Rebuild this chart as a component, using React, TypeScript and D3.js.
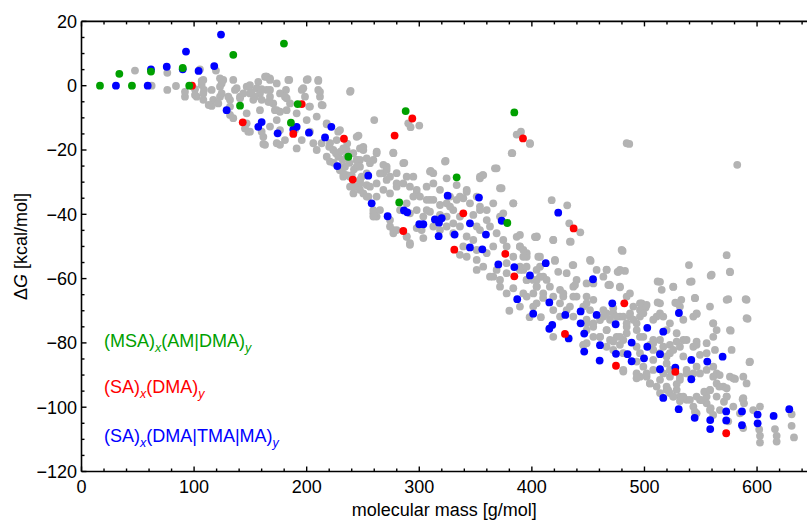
import React from "react";
import * as d3 from "d3";

// ---------- data (molecular mass [g/mol], ΔG [kcal/mol]) ----------
const xTicks = [0, 100, 200, 300, 400, 500, 600];
const yTicks = [-120, -100, -80, -60, -40, -20, 0, 20];

const grayPoints: [number, number][] = [
  [47.5,4.7],[62.3,0],[76.2,4],[76.2,-1.3],[83.9,-0.1],[105.2,5.1],[119.4,4.7],
  [106.7,1.5],[108.8,-1.3],[100.8,-1.1],[91.9,-3.4],[102.3,-3.4],[108.2,-4.4],[115.6,-6.3],[117,-4.4],[123,-3.4],[124.5,0.7],[123,2.3],[134.8,1.8],[136.3,-1.3],[140.8,-3.4],[146.7,-0.3],[149.6,-2.4],[152.6,-4.4],[155.6,-0.8],[157,1.2],[158.5,-2.4],[163,2.8],[164.5,-1.3],[167.4,-3.4],[170.3,-5.5],[131.9,-9.1],[145.2,-13.3],[148.1,-14.3],[160,-14.3],[161.5,-15.9],[161.5,-18.1],[176.3,-8.1],[173.4,-17.9],[131.9,-4.4],
  [163.9,2.8],[167.4,2.3],[184.5,1.8],[200.9,2],[210.3,1.5],[239,-1.6],[160,-1.1],[181.6,-1.3],[182.2,-3.9],[195.6,-1.3],[210.3,-1.3],[211.8,-3.4],[214.2,-6.1],[166.8,-5],[173.3,-7.6],[182.2,-7.6],[202.3,-6.5],[200,-10.7],[217.8,-12],[228,-14.3],[244.4,-15.9],[260,-10.7],[290.2,-11.7],[292.3,-12.9],[300,-12.4],[276.9,-20.8],[286.7,-24],[323.4,-23.4],[368.7,-25.7],[310.1,-26.5],[386.5,-15.2],[390.3,-14.3],[398.3,-18.1],[382.6,-21],[356.3,-27.8],[353.9,-28.8],[484.2,-17.9],[486.5,-18.1],[582.4,-24.6],
  [91.9,-1.9],[100.8,-2.9],[108.2,-2.4],[106.7,0.2],[108.2,1.8],[115.6,-1.3],[123,-0.3],[125.9,1.8],[124.5,-2.4],[113,-6],[121.5,-5.5],[130.4,-3.4],[137.8,-0.8],[140.8,-3.9],[143.7,-2.4],[149.6,0.2],[151.1,-1.9],[154.1,-3.4],[160,-4.4],[164.5,2.8],[167.4,1.8],[167.4,-1.3],[165.9,-5],[173.4,0.7],[176.3,-2.4],[183.7,1.8],[180.7,-3.4],[185.2,-5.5],[197,-0.8],[200,1.8],[198.5,-3.4],[210.3,1.8],[211.8,-1.9],[213.3,-6],[238.5,-1.9],[202.9,-6.5],[158.5,-7.6],[171.8,-7.6],[191.1,-8.6],[208.9,-9.6],[217.8,-11.7],[229.6,-13.8],[146.7,-8.6],[146.7,-11.7],[149.6,-14.3],[173.4,-10.7],[176.3,-13.8],[167.4,-12.7],[180.7,-16.9],[191.1,-19.5],[202.9,-14.3],[205.9,-17.9],[208.9,-20],[220.7,-17.9],[226.6,-16.9],[232.5,-19.5],[235.5,-22.1],[250.3,-20],[253.3,-22.6],[244.4,-23.1],[217.8,-22.1],[220.7,-23.6],[229.6,-26.2],[232.5,-28.3],[244.4,-25.2],[248.8,-28.3],[253.3,-27.3],[244.4,-31.4],[250.3,-33.5],[238.5,-31.4],[163,-18.4],[176.3,-18.4],[189.6,-13.8],[195.6,-16.9],[134.8,-10.1],[131.9,-6.5],[213.3,-17.9],[223.6,-20],[228.1,-22.1],[234,-25.2],[240,-27.8],[247.4,-30.4],[253.3,-30.9],[254.8,-34.5],[241.5,-33.5],
  [220,-19],[226,-21],[232,-23],[238,-24],[242,-26],[236,-18],[224,-24],[230,-20.5],[247.3,-19.5],[250.3,-19],[262.2,-20.5],[247.3,-23.1],[256.2,-24.1],[268,-27.2],[271,-25.2],[279.9,-27.2],[288.8,-28.3],[294.7,-28.3],[246,-15.5],
  [229.6,-26.2],[235.5,-27.8],[247.3,-29.3],[262.1,-30.4],[259.2,-39.7],[262.1,-40.7],[274,-43.8],[277,-45.9],[288.8,-47],[291.7,-49.5],[312.4,-27.2],[306.5,-31.4],[318.4,-32.4],[297.7,-33.5],[309.5,-35.5],[336.1,-34.5],[342.1,-32.4],[353.9,-28.3],[371.7,-31.9],[383.5,-36.6],[365.7,-36.6],[353.9,-38.7],[374.6,-39.7],[386.5,-47],[404.3,-47],[395.4,-52.1],[330.2,-38.7],[324.3,-36.6],[279.9,-31.4],[271,-29.3],
  [235.5,-20],[241.4,-21],[250,-19.5],[244.4,-23.1],[247.3,-25.2],[259.2,-23.1],[262.1,-21],[277,-21],[285.8,-24.1],[268.1,-24.6],[271,-26.2],[265.1,-27.3],[274,-28.3],[279.9,-30.4],[285.8,-30.4],[291.7,-31.4],[297.7,-32.4],[309.5,-26.7],[312.5,-30.4],[324.3,-28.8],[322.8,-23.6],[333.2,-30.9],[342.1,-33],[356.8,-27.8],[367.2,-25.7],[373.1,-31.9],[383.5,-36.6],[382.1,-21],[398.3,-17.9],
  [300.6,-34.5],[306.6,-35.5],[294.7,-34.5],[312.5,-35.5],[318.4,-37.1],[327.3,-37.6],[333.2,-35.5],[339.1,-35],[345,-36.6],[351,-34.5],[353.9,-37.6],[359.9,-38.7],[348,-40.2],[336.1,-40.7],[330.2,-42.8],[324.3,-40.7],[306.6,-38.7],[303.6,-40.7],[297.7,-38.7],[291.7,-39.7],[274,-33.5],[268.1,-32.4],[262.1,-34.5],[259.2,-38.7],[265.1,-38.7],[256.2,-31.4],[247.3,-29.4],[241.4,-31.4],[238.5,-28.3],[232.5,-27.3],[229.6,-25.2],[247.3,-32.4],[253.2,-34.5],[259.2,-40.7],[274,-41.8],[277,-44.9],[288.8,-46.9],[291.7,-49],[279.9,-44.9],[297.7,-44.3],[303.6,-47.4],[302.1,-44.9],[312.5,-43.8],[318.4,-44.9],[324.3,-43.8],[330.2,-45.9],[336.1,-43.8],[342.1,-46.9],[348,-48],[351,-51.1],[339.1,-50],[336.1,-52.6],[342.1,-53.2],[351,-54.2],[359.9,-52.1],[365.7,-50],[374.6,-48],[377.6,-50],[368.7,-45.9],[362.8,-43.8],[359.9,-41.8],[371.7,-40.7],[353.9,-44.9],[389.4,-46.4],[389.4,-50],[404.3,-46.9],[395.4,-53.2],[383.5,-53.2],[377.6,-55.2],[368.7,-57.3],[362.8,-59.4],[371.7,-60.4],[377.6,-58.3],[389.4,-56.3],[395.4,-60.4],[404.3,-62.5],[407.2,-53.2],[356.8,-56.3],[351,-57.3],[288.8,-36.6],[282.9,-38.7],[309.5,-39.2],[318.4,-40.2],[327.3,-34.5],[351,-43.8],
  [365.7,-59.4],[377.6,-64.6],[392.4,-57.3],[404.3,-60.4],[401.2,-68.7],[383.5,-63],[395.4,-65.6],[371.7,-62.5],[389.4,-68.7],[380,-70],[398,-72],[410,-66],[408,-72],
  [573,-52.7],[539.5,-55.8],[558.8,-59.1],[576,-58],[511.7,-60.9],[525.6,-62.6],[541.9,-60.9],[468.8,-61.9],[478.2,-62.7],[515.3,-63.5],[574.4,-66.4],[589.9,-66.4],[591.6,-72.5],[544.8,-66],[532.7,-66.6],[527.4,-67.5],[546.4,-71],[561,-73.9],[576.6,-76.2],[511.7,-67.4],[497.5,-67.7],[501,-69],[480.6,-51.4],[452.2,-54.5],[466.4,-57.2],[476.2,-57.9],[482.7,-57.6],[436.2,-55.8],[420.5,-54.5],[417.6,-35.6],[431.4,-37.2],[433.2,-42.8],[443,-45.6],[434.5,-48.5],[419,-48],[403.4,-47.1],
  [402.7,-47],[405.7,-53.2],[407.2,-56.3],[419,-48],[420.5,-54.2],[423.4,-57.9],[433.8,-48.5],[436.8,-55.8],[439.7,-60.4],[448.6,-61.5],[451.6,-54.2],[457.5,-57.3],[463.5,-59.4],[467.9,-62],[478.2,-62.5],[476.8,-57.9],[479.7,-51.1],[487.1,-64.6],[395.3,-56.3],[401.3,-60.4],[410.1,-59.4],[416,-62.5],[389.4,-50.1],[392.4,-53.2],
  [392.4,-51.1],[389.4,-57.3],[395.3,-60.4],[404.2,-57.3],[407.2,-59.4],[413.1,-60.4],[404.2,-62.5],[410.1,-64.6],[419,-65.6],[425,-63.5],[427.9,-65.6],[436.8,-62.5],[439.7,-65.6],[448.6,-65.6],[433.8,-68.7],[445.7,-68.7],[451.6,-69.8],[419,-69.8],[404.2,-67.7],[401.3,-64.6],[392.4,-64.6],[425,-71.8],[419,-78.1],[448.6,-73.9],[454.5,-75],[460.5,-72.9],[466.4,-70.8],[472.3,-70.8],[478.2,-71.8],[487.1,-71.8],[493,-73.9],[484.2,-75],[466.4,-76],[460.5,-78.1],[448.6,-80.1],[445.7,-80.7],[475.3,-78.1],[481.2,-79.1],[499,-78.1],[496,-69.8],[510.8,-71.8],[513.8,-79.1],
  [430.9,-58.3],[438.3,-62],[454.6,-61.5],[466.4,-57.3],[469.4,-62],[478.2,-57.3],[484.2,-65.6],[513.8,-61],[525.6,-62.5],[540.4,-61],[559.7,-58.8],[575.9,-57.8],[590.7,-66.6],[573,-66.6],[558.2,-68.7],[544.9,-66.1],[528.6,-67.7],[513.8,-67.7],[501.9,-68.2],[496,-67.7],[490.1,-68.7],[487.2,-70.8],[472.3,-69.2],[463.5,-69.8],[454.6,-66.6],[448.6,-67.7],[436.8,-65.6],[427.9,-64.6],[425,-67.7],[430.9,-69.8],[436.8,-71.8],[448.6,-72.8],[454.6,-73.9],[463.5,-71.8],[469.4,-72.8],[475.3,-71.8],[481.2,-71.8],[484.2,-73.9],[490.1,-72.8],[496,-71.8],[499,-70.8],[507.8,-72.8],[513.8,-70.8],[516.7,-71.8],[522.6,-73.9],[519.7,-76],[528.6,-77],[534.5,-72.8],[531.5,-68.7],[543.4,-71.8],[546.3,-70.8],[561.1,-73.9],[564.1,-76],[575.9,-76],[590.7,-72.3],[561.1,-78.1],[546.3,-79.6],[562.6,-82.2],[577.4,-82.2],[593.7,-85.8],[555.2,-80.1],[543.4,-81.2],[534.5,-79.1],[528.6,-79.6],[522.6,-80.6],[522.6,-83.2],[507.8,-79.1],[504.9,-80.6],[496,-78.1],[493.1,-76],[484.2,-77],[478.2,-78.1],[466.4,-76],[460.5,-78.1],[454.6,-78.1],[448.6,-76],[445.7,-80.6],[469.4,-79.1],[472.3,-82.2],[481.2,-83.2],[481.2,-88.4],[493.1,-85.8],[499,-87.4],[507.8,-85.3],[513.8,-83.2],[519.7,-86.4],[516.7,-89.5],[522.6,-90.5],[513.8,-91.5],[501.9,-90.5],[496,-90.5],[504.9,-92.6],[519.7,-93.6],[531.5,-91.5],[537.4,-88.4],[543.4,-89.5],[546.3,-87.4],[555.2,-88.4],[561.1,-90.5],[564.1,-92.6],[570,-93.6],[575.9,-90.5],[578.9,-91],[587.8,-90.5],[590.7,-92.6],[573,-96.7],[564.1,-96.7],[558.2,-94.6],[555.2,-96.7],[549.3,-97.7],[543.4,-99.8],[537.4,-97.7],[531.5,-96.7],[528.6,-94.6],[525.6,-96.7],[522.6,-95.6],[513.8,-95.6],[546.3,-101.9],[558.2,-100.9],[567,-100.9],[578.9,-99.8],[587.8,-97.2],[596.6,-100.9],[602.6,-99.8],[584.8,-101.9],
  [466.4,-81.2],[472.3,-79.6],[478.2,-80.6],[493,-81.2],[496,-83.2],[507.8,-80.1],[507.8,-82.2],[516.7,-81.2],[519.7,-84.2],[525.6,-82.2],[531.5,-81.2],[534.5,-84.2],[537.4,-79.1],[546.3,-80.6],[549.3,-83.7],[555.2,-83.2],[561.1,-87.4],[564.1,-89.5],[549.3,-89.5],[537.4,-89.5],[531.5,-90.5],[522.6,-88.4],[507.8,-88.4],[501.9,-89.5],[493,-89.5],[504.9,-92.6],[510.8,-93.6],[519.7,-94.6],[525.6,-96.7],[534.5,-96.7],[540.4,-97.7],[546.3,-96.7],[555.2,-98.8],[493,-91],[481.2,-88.9],
  [593.3,-86],[587.2,-97.5],[588.4,-98.8],[601.9,-106.9],[602.6,-108.9],[602.6,-111],[615.9,-106.8],[617.4,-108.9],[617.4,-110.7],[630.7,-102.2],[630.7,-105.8],[632.8,-109.4],[574.4,-104.4],[587.7,-106.5],[561,-102.4],[558.8,-100.3],[544.8,-101.4],[570.6,-98.3],[573,-96.7],[531.5,-98.1],[521.1,-94.7],[528.6,-92.8],[553.1,-95.2],[558.2,-94.7],[550.8,-97.8],[580.4,-91.2],[566.8,-90],[566.4,-93.6],[573,-94.1]
];

const bluePoints: [number, number][] = [
  [30.6,0],[58.8,0],[61.7,5.1],[75.7,5.9],[92.8,10.6],[89.9,5.1],[104,4.6],[117.9,6.1],[123.9,15.9],[128.9,-7.6],[160,-11.3],[157,-12.8],[174.2,-14.8],
  [191.1,-12.8],[188.1,-13.6],[202,-14.6],[216.3,-16.1],[221.9,-12.8],[227.2,-25],[254.7,-28],
  [257.7,-36.6],[271.9,-40.6],[286.4,-38.8],[289.3,-39.4],[300,-43.1],[303.6,-43.1],[313.9,-41.6],[319.9,-41.2],[317.5,-42.6],[325.2,-34.2],[317.2,-46.8],[345,-42.8],[331.4,-46.3],[345,-50.3],[356,-50.9],[353,-34.8],[359.2,-46.3],[373.2,-42],[370.2,-55.6],[384.4,-56.4],[398.3,-59],[387,-66.4],[401.2,-70.9],
  [423.4,-39.5],[412.3,-55.2],[454.3,-60.2],[415.5,-67.4],[429.7,-71.3],[443.3,-70.2],[443.3,-73.9],[418.1,-74.4],[415.5,-75.6],[432.7,-78.6],[446.5,-77.1],[457.5,-71.3],[471.4,-67.7],[474.4,-74.2],[460.5,-80.7],[502.5,-75.3],[516.7,-76.5],[488.6,-79.9],[502.5,-81.2],[530.6,-70.7],
  [446.5,-82.7],[460.2,-85.5],[474.7,-83.4],[485,-83.5],[488.6,-85.7],[499.6,-84.8],[513.8,-83.5],[513.8,-88.2],[527.4,-87.7],[541.6,-85.3],[541.6,-91.3],[555.8,-85.8],[569.4,-84.3],[516.7,-97.1],[530.4,-100.6],[544.6,-103.3],[558.4,-104],[558.4,-106.8],[572.6,-101.3],[572.6,-104.1],[586.6,-101.3],[586.6,-105.6],[600.5,-102.3],[600.5,-105],[614.7,-102.7],[628.6,-100.6]
];

const redPoints: [number, number][] = [
  [98.1,0],[143.2,-11.4],[195.6,-5.7],[188.1,-15],[233.1,-16.5],[278.1,-15.5],[293.8,-10.2],[392.1,-16.4],[240.9,-29.2],[285.8,-45.2],[339.1,-39.7],[331.1,-51],[376.4,-52.3],[384.4,-59.3],[437.1,-44.4],[482.1,-67.7],[429.4,-77.2],[474.7,-87.1],[527.4,-89],[572.6,-108.1]
];

const greenPoints: [number, number][] = [
  [16.4,0],[33.6,3.7],[44.8,0],[61.7,4.4],[89.9,5.5],[95.7,0],[134.8,9.6],[140.8,-6.2],[179.8,13.1],[192,-5.7],[186,-11.5],[237,-22.1],[287.9,-7.9],[333.2,-28.5],[384.4,-8.3],[282.2,-36.3],[378.2,-42.7]
];

const GRAY = "#b3b3b3";
const BLUE = "#0000ff";
const RED = "#ff0000";
const GREEN = "#00a000";
const FONT = "'Liberation Sans', Arial, Helvetica, sans-serif";

export default function App() {
  const W = 807, H = 523;
  const left = 81.5, right = 806.6, top = 21.4, bottom = 471.5;
  const x = d3.scaleLinear().domain([0, 644]).range([left, right]);
  const y = d3.scaleLinear().domain([-120, 20]).range([bottom, top]);
  const xMinor = d3.range(0, 645, 20).filter((v) => v % 100 !== 0);
  const yMinor = d3.range(-120, 21, 5).filter((v) => v % 20 !== 0);
  const r = 3.9;
  const fmt = (v: number) => (v < 0 ? "\u2212" + Math.abs(v) : String(v));

  const dots = (pts: [number, number][], color: string, key: string) =>
    pts.map((p, i) => (
      <circle key={key + i} cx={x(p[0])} cy={y(p[1])} r={r} fill={color} />
    ));

  return (
    <svg width={W} height={H} style={{ position: "absolute", left: 0, top: 0, background: "#fff" }} fontFamily={FONT}>
      <rect width={W} height={H} fill="#fff" />
      <g>
        {dots(grayPoints, GRAY, "g")}
        {dots(bluePoints, BLUE, "b")}
        {dots(redPoints, RED, "r")}
        {dots(greenPoints, GREEN, "gr")}
      </g>
      {/* frame */}
      <g stroke="#000" strokeWidth={1.6} fill="none">
        <line x1={left} x2={left} y1={top} y2={bottom} />
        <line x1={left} x2={W} y1={bottom} y2={bottom} />
        <line x1={left} x2={W} y1={top} y2={top} />
      </g>
      <g stroke="#000" strokeWidth={1.4}>
        {xTicks.map((v) => (
          <g key={"xt" + v}>
            <line x1={x(v)} x2={x(v)} y1={bottom} y2={bottom - 5} />
            <line x1={x(v)} x2={x(v)} y1={top} y2={top + 5} />
          </g>
        ))}
        {xMinor.map((v) => (
          <g key={"xm" + v}>
            <line x1={x(v)} x2={x(v)} y1={bottom} y2={bottom - 3} />
            <line x1={x(v)} x2={x(v)} y1={top} y2={top + 3} />
          </g>
        ))}
        {yTicks.map((v) => (
          <line key={"yt" + v} x1={left} x2={left + 5} y1={y(v)} y2={y(v)} />
        ))}
        {yMinor.map((v) => (
          <line key={"ym" + v} x1={left} x2={left + 3} y1={y(v)} y2={y(v)} />
        ))}
      </g>
      <g fontSize={18} fill="#000">
        {xTicks.map((v) => (
          <text key={"xl" + v} x={x(v)} y={bottom + 21} textAnchor="middle">{fmt(v)}</text>
        ))}
        {yTicks.map((v) => (
          <text key={"yl" + v} x={left - 4.5} y={y(v) + 6.3} textAnchor="end">{fmt(v)}</text>
        ))}
      </g>
      <text x={(left + W) / 2} y={516} textAnchor="middle" fontSize={18} fill="#000">molecular mass [g/mol]</text>
      <text transform={`translate(27,${(top + bottom) / 2}) rotate(-90)`} textAnchor="middle" fontSize={18} fill="#000">
        {"\u0394"}<tspan fontStyle="italic">G</tspan>{" [kcal/mol]"}
      </text>
      <g fontSize={18}>
        <text x={104} y={347} fill={GREEN}>
          (MSA)<tspan fontSize={12.5} fontStyle="italic" dy={4.5}>x</tspan><tspan dy={-4.5}>(AM|DMA)</tspan><tspan fontSize={12.5} fontStyle="italic" dy={4.5}>y</tspan>
        </text>
        <text x={104} y={393} fill={RED}>
          (SA)<tspan fontSize={12.5} fontStyle="italic" dy={4.5}>x</tspan><tspan dy={-4.5}>(DMA)</tspan><tspan fontSize={12.5} fontStyle="italic" dy={4.5}>y</tspan>
        </text>
        <text x={104} y={442} fill={BLUE}>
          (SA)<tspan fontSize={12.5} fontStyle="italic" dy={4.5}>x</tspan><tspan dy={-4.5}>(DMA|TMA|MA)</tspan><tspan fontSize={12.5} fontStyle="italic" dy={4.5}>y</tspan>
        </text>
      </g>
    </svg>
  );
}
